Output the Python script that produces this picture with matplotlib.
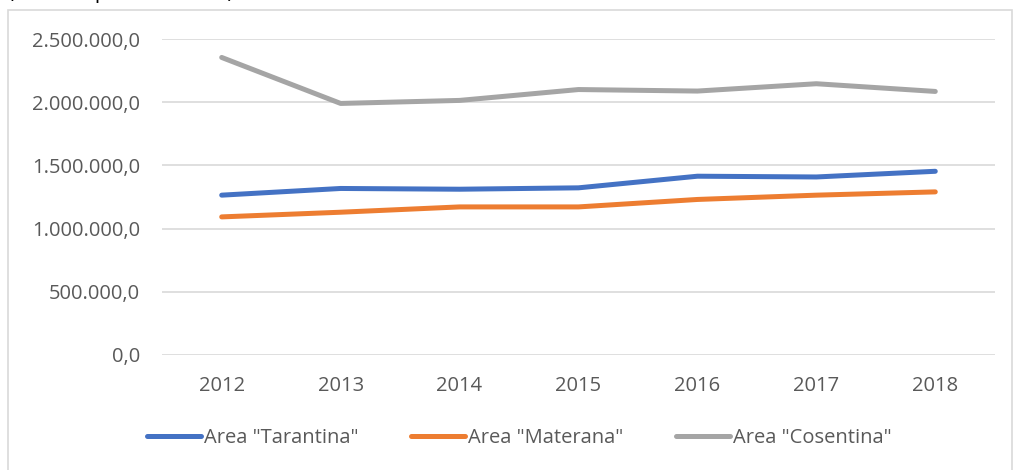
import matplotlib
matplotlib.use("Agg")
import matplotlib.pyplot as plt
from matplotlib.patches import Rectangle
from matplotlib.ticker import FuncFormatter

years = ["2012", "2013", "2014", "2015", "2016", "2017", "2018"]
tarantina = [1264000, 1317000, 1311000, 1322000, 1414000, 1408000, 1453000]
materana = [1092000, 1129000, 1171000, 1171000, 1230000, 1264000, 1290000]
cosentina = [2354000, 1990000, 2014000, 2100000, 2088000, 2146000, 2085000]

labels = ['Area "Tarantina"', 'Area "Materana"', 'Area "Cosentina"']
colors = ["#4472C4", "#ED7D31", "#A5A5A5"]

plt.rcParams["font.family"] = ["Open Sans", "DejaVu Sans"]

fig = plt.figure(figsize=(10.14, 4.7), dpi=100)
ax = fig.add_axes([0.16, 0.245, 0.821, 0.672])

x = range(len(years))
for vals, lab, col in zip([tarantina, materana, cosentina], labels, colors):
    ax.plot(x, vals, color=col, lw=3.6, label=lab, solid_capstyle="round", solid_joinstyle="round")

ax.set_xlim(-0.5, len(years) - 0.5)
ax.set_ylim(0, 2500000)
ax.set_yticks(range(0, 2500001, 500000))
ax.yaxis.set_major_formatter(FuncFormatter(lambda v, p: f"{v:,.1f}".replace(",", "X").replace(".", ",").replace("X", ".")))
ax.set_xticks(list(x))
ax.set_xticklabels(years)
ax.grid(axis="y", color="#D9D9D9", lw=1.2)
ax.set_axisbelow(True)
for s in ax.spines.values():
    s.set_visible(False)
ax.tick_params(length=0, labelsize=14.5, colors="#595959")
ax.tick_params(axis="y", pad=16)
ax.tick_params(axis="x", pad=15)

leg = fig.legend(loc="center", bbox_to_anchor=(0.512, 0.068), ncol=3, frameon=False,
                 fontsize=14.5, handlelength=2.7, handletextpad=0.15, columnspacing=2.6)
for t in leg.get_texts():
    t.set_color("#595959")

# outer chart border
fig.patches.append(Rectangle((0.008, -0.05), 0.99, 1.029, transform=fig.transFigure,
                             fill=False, edgecolor="#D9D9D9", lw=1.2))
fig.text(0.008, 1.016, "(valori espressi in euro)", fontsize=15, color="black", va="center", ha="left")

fig.savefig("out.png", dpi=100)
